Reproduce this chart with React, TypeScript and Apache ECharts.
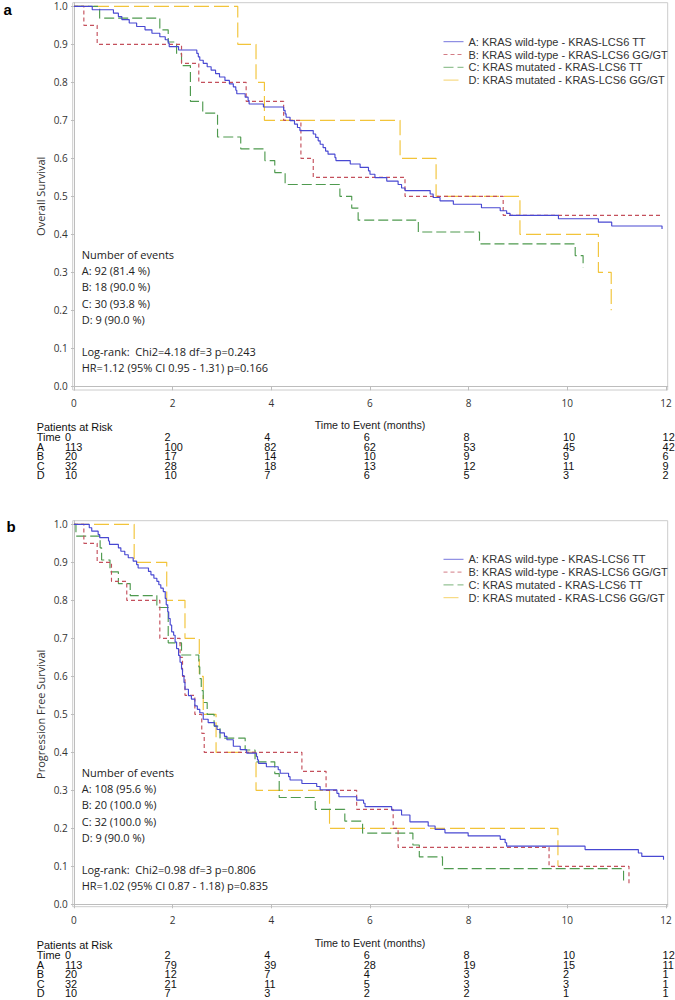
import React, { useEffect, useRef } from 'react';
import * as echarts from 'echarts';

const seriesNames = [
  'A: KRAS wild-type - KRAS-LCS6 TT',
  'B: KRAS wild-type - KRAS-LCS6 GG/GT',
  'C: KRAS mutated - KRAS-LCS6 TT',
  'D: KRAS mutated - KRAS-LCS6 GG/GT',
];
const groupLetters = ['A', 'B', 'C', 'D'];

const xTicks = [0, 2, 4, 6, 8, 10, 12];
const yTicks = [0, 0.1, 0.2, 0.3, 0.4, 0.5, 0.6, 0.7, 0.8, 0.9, 1.0];

// Overall survival (panel a) — [months, survival]
const osA = [[0,1],[0.37,0.991],[0.80,0.982],[0.90,0.973],[0.97,0.965],[1.12,0.956],[1.27,0.947],[1.44,0.938],[1.58,0.929],[1.74,0.920],[1.85,0.912],[1.91,0.903],[1.93,0.894],[2.12,0.885],[2.49,0.876],[2.52,0.867],[2.55,0.858],[2.62,0.850],[2.70,0.841],[2.78,0.832],[2.87,0.823],[2.95,0.814],[3.06,0.805],[3.15,0.796],[3.23,0.788],[3.28,0.779],[3.30,0.770],[3.47,0.761],[3.53,0.752],[3.55,0.743],[3.84,0.735],[4.25,0.726],[4.28,0.717],[4.30,0.708],[4.38,0.699],[4.47,0.690],[4.53,0.681],[4.58,0.673],[4.85,0.664],[4.90,0.655],[4.95,0.646],[4.99,0.637],[5.05,0.628],[5.10,0.619],[5.15,0.611],[5.29,0.602],[5.31,0.594],[5.60,0.585],[5.80,0.576],[5.97,0.567],[6.00,0.558],[6.10,0.549],[6.34,0.540],[6.57,0.531],[6.64,0.522],[6.71,0.515],[7.22,0.506],[7.28,0.497],[7.42,0.488],[7.69,0.479],[8.26,0.470],[8.64,0.462],[8.77,0.455],[8.84,0.450],[9.82,0.441],[10.63,0.432],[10.90,0.422],[11.92,0.414]];
const osB = [[0,1],[0.20,0.95],[0.47,0.90],[2.18,0.85],[2.53,0.80],[3.49,0.75],[4.25,0.70],[4.60,0.60],[4.85,0.55],[6.71,0.50],[8.70,0.45],[11.88,0.45]];
const osC = [[0,1],[0.52,0.969],[1.74,0.938],[1.91,0.906],[2.08,0.875],[2.18,0.844],[2.36,0.75],[2.61,0.719],[2.91,0.656],[3.38,0.625],[3.87,0.594],[4.07,0.5625],[4.28,0.531],[5.39,0.50],[5.63,0.469],[5.76,0.4375],[6.98,0.406],[8.22,0.375],[10.16,0.344],[10.32,0.3125]];
const osD = [[0,1],[3.32,0.9],[3.69,0.8],[3.86,0.7],[6.61,0.6],[7.34,0.5],[9.04,0.4],[10.63,0.3],[10.89,0.2]];

// Progression free survival (panel b)
const pfsA = [[0,1],[0.31,0.991],[0.36,0.982],[0.49,0.973],[0.52,0.965],[0.70,0.956],[0.72,0.947],[0.90,0.938],[0.95,0.929],[1.03,0.920],[1.10,0.912],[1.20,0.903],[1.27,0.894],[1.30,0.885],[1.51,0.876],[1.56,0.867],[1.62,0.858],[1.68,0.850],[1.72,0.841],[1.76,0.832],[1.81,0.823],[1.85,0.805],[1.87,0.788],[1.90,0.770],[1.92,0.752],[1.95,0.735],[1.98,0.717],[2.02,0.708],[2.05,0.690],[2.08,0.673],[2.12,0.655],[2.15,0.637],[2.18,0.619],[2.20,0.602],[2.23,0.584],[2.25,0.566],[2.32,0.549],[2.38,0.540],[2.45,0.522],[2.50,0.513],[2.55,0.504],[2.62,0.487],[2.72,0.478],[2.85,0.469],[2.90,0.460],[2.96,0.451],[3.05,0.442],[3.10,0.433],[3.23,0.416],[3.37,0.407],[3.50,0.398],[3.70,0.389],[3.72,0.380],[3.74,0.371],[3.90,0.362],[4.14,0.354],[4.18,0.345],[4.35,0.336],[4.38,0.327],[4.62,0.318],[4.92,0.310],[4.99,0.301],[5.33,0.292],[5.37,0.283],[5.73,0.274],[5.87,0.266],[5.90,0.257],[6.44,0.248],[6.64,0.235],[6.81,0.217],[7.18,0.206],[7.32,0.197],[7.52,0.188],[7.99,0.180],[8.64,0.171],[8.74,0.162],[8.77,0.153],[10.36,0.144],[11.44,0.135],[11.51,0.126],[11.95,0.117]];
const pfsB = [[0,1],[0.20,0.95],[0.47,0.90],[0.76,0.85],[1.07,0.80],[1.74,0.70],[2.15,0.65],[2.20,0.60],[2.25,0.55],[2.45,0.50],[2.59,0.45],[2.64,0.40],[4.62,0.35],[5.11,0.30],[5.73,0.25],[6.47,0.20],[6.57,0.15],[9.63,0.10],[11.25,0.05]];
const pfsC = [[0,1],[0.04,0.969],[0.53,0.938],[0.56,0.906],[0.73,0.875],[0.90,0.844],[1.14,0.8125],[1.68,0.781],[1.91,0.688],[2.18,0.656],[2.53,0.625],[2.55,0.594],[2.58,0.5625],[2.62,0.531],[2.70,0.50],[2.84,0.469],[2.96,0.4375],[3.47,0.406],[3.67,0.375],[4.07,0.344],[4.16,0.281],[4.89,0.25],[5.49,0.219],[5.85,0.1875],[6.87,0.156],[7.00,0.125],[7.47,0.094],[11.14,0.0625]];
const pfsD = [[0,1],[1.22,0.9],[1.88,0.8],[2.25,0.7],[2.54,0.6],[2.62,0.5],[2.88,0.4],[3.69,0.3],[5.18,0.2],[9.81,0.1]];

// Patients at risk
const riskTimes = [0, 2, 4, 6, 8, 10, 12];
const osRiskA = [113, 100, 82, 62, 53, 45, 42];
const osRiskB = [20, 17, 14, 10, 9, 9, 6];
const osRiskC = [32, 28, 18, 13, 12, 11, 9];
const osRiskD = [10, 10, 7, 6, 5, 3, 2];
const pfsRiskA = [113, 79, 39, 28, 19, 15, 11];
const pfsRiskB = [20, 12, 7, 4, 3, 2, 1];
const pfsRiskC = [32, 21, 11, 5, 3, 3, 1];
const pfsRiskD = [10, 7, 3, 2, 2, 1, 1];

const osEvents = ['A: 92 (81.4 %)', 'B: 18 (90.0 %)', 'C: 30 (93.8 %)', 'D: 9 (90.0 %)'];
const osStats = ['Log-rank:  Chi2=4.18 df=3 p=0.243', 'HR=1.12 (95% CI 0.95 - 1.31) p=0.166'];
const pfsEvents = ['A: 108 (95.6 %)', 'B: 20 (100.0 %)', 'C: 32 (100.0 %)', 'D: 9 (90.0 %)'];
const pfsStats = ['Log-rank:  Chi2=0.98 df=3 p=0.806', 'HR=1.02 (95% CI 0.87 - 1.18) p=0.835'];

const colors = ['#4848d2', '#c4505c', '#4f9a4f', '#f2c43a'];
const dashes: any[] = ['solid', [4, 3], [10, 4], [15, 5]];

const panels = [
  { letter: 'a', yName: 'Overall Survival', top: 2.7, height: 387.3, ymin: -0.0097, dy: 0,
    curves: [osA, osB, osC, osD], risk: [osRiskA, osRiskB, osRiskC, osRiskD], events: osEvents, stats: osStats },
  { letter: 'b', yName: 'Progression Free Survival', top: 520.7, height: 386, ymin: -0.0063, dy: 518,
    curves: [pfsA, pfsB, pfsC, pfsD], risk: [pfsRiskA, pfsRiskB, pfsRiskC, pfsRiskD], events: pfsEvents, stats: pfsStats },
];

const TICK_FONT = '"Open Sans", sans-serif';
const ARIAL = '"Liberation Sans", Arial, sans-serif';

export default function App() {
  const ref = useRef<HTMLDivElement>(null);
  useEffect(() => {
    if (!ref.current) return;
    const chart = echarts.init(ref.current, null, { renderer: 'svg' });
    const grids: any[] = [];
    const xAxes: any[] = [];
    const yAxes: any[] = [];
    const series: any[] = [];
    const legends: any[] = [];
    const graphics: any[] = [];

    panels.forEach((p, pi) => {
      grids.push({ left: 72.7, top: p.top, width: 595, height: p.height, show: true, borderColor: '#cccccc', borderWidth: 1, containLabel: false });
      xAxes.push({
        type: 'value', gridIndex: pi, min: -0.026, max: 12.035,
        axisLine: { show: true, lineStyle: { color: '#bdbdbd' } },
        axisTick: { show: true, length: 4, customValues: xTicks, lineStyle: { color: '#bdbdbd' } },
        axisLabel: { customValues: xTicks, margin: 8, fontSize: 10, fontFamily: TICK_FONT, color: '#333' },
        splitLine: { show: false },
      });
      yAxes.push({
        type: 'value', gridIndex: pi, min: p.ymin, max: 1.0095,
        axisLine: { show: true, lineStyle: { color: '#bdbdbd' } },
        axisTick: { show: true, length: 3, customValues: yTicks, lineStyle: { color: '#bdbdbd' } },
        axisLabel: { customValues: yTicks, margin: 5, fontSize: 10, fontFamily: TICK_FONT, color: '#333', formatter: (v: number) => v.toFixed(1) },
        splitLine: { show: false },
      });
      p.curves.forEach((c, ci) => {
        series.push({
          type: 'line', name: seriesNames[ci], xAxisIndex: pi, yAxisIndex: pi, data: c,
          step: 'end', symbol: 'none', showSymbol: false, silent: true, z: 10 - ci,
          lineStyle: { color: colors[ci], width: 1.15, type: dashes[ci] },
          itemStyle: { color: colors[ci] },
        });
      });
      legends.push({
        orient: 'vertical', left: 443, top: p.top + 33.5 + (pi === 0 ? 0 : -0.4), itemWidth: 20, itemHeight: 11, itemGap: 1.8,
        padding: 0, selectedMode: false,
        itemStyle: { opacity: 0, borderWidth: 0 },
        lineStyle: { width: 1, opacity: 0.75 },
        textStyle: { fontFamily: ARIAL, fontSize: 11, color: '#333', lineHeight: 11 },
        data: seriesNames,
      });
      // panel letter
      graphics.push({ type: 'text', x: pi === 0 ? 3.5 : 6.5, y: pi === 0 ? 9.5 : 526.5, style: { text: p.letter, font: 'bold 15px "Liberation Sans", Arial, sans-serif', fill: '#000', verticalAlign: 'middle' } });
      // y axis title
      graphics.push({ type: 'text', x: 40.5, y: p.top + 3.6 + 190, rotation: Math.PI / 2, style: { text: p.yName, font: '11px "Open Sans", sans-serif', fill: '#333', align: 'center', verticalAlign: 'middle' } });
      // x axis title
      graphics.push({ type: 'text', x: 370, y: 425 + p.dy, style: { text: 'Time to Event (months)', font: '10.7px "Liberation Sans", Arial, sans-serif', fill: '#222', align: 'center', verticalAlign: 'middle' } });
      // annotations
      const annY = 254.3 + p.dy;
      graphics.push({ type: 'text', x: 81.7, y: annY, style: { text: 'Number of events', font: '11px "Open Sans", sans-serif', fill: '#222', verticalAlign: 'middle' } });
      p.events.forEach((t, i) => {
        graphics.push({ type: 'text', x: 81.7, y: annY + 16.25 * (i + 1), style: { text: t, font: '11px "Open Sans", sans-serif', fill: '#222', verticalAlign: 'middle' } });
      });
      p.stats.forEach((t, i) => {
        graphics.push({ type: 'text', x: 81.7, y: annY + 96.7 + 16.3 * i, style: { text: t, font: '11px "Open Sans", sans-serif', fill: '#222', verticalAlign: 'middle', whiteSpace: 'pre' } });
      });
      // patients at risk table
      const tFont = '11.5px "Liberation Sans", Arial, sans-serif';
      const colX = (t: number) => 65 + (t / 2) * 99.6;
      graphics.push({ type: 'text', x: 36.7, y: 427.3 + p.dy, scaleX: 0.95, style: { text: 'Patients at Risk', font: tFont, fill: '#111', verticalAlign: 'middle' } });
      graphics.push({ type: 'text', x: 36.7, y: 437.3 + p.dy, scaleX: 0.95, style: { text: 'Time', font: tFont, fill: '#111', verticalAlign: 'middle' } });
      riskTimes.forEach((t) => {
        graphics.push({ type: 'text', x: colX(t), y: 437.3 + p.dy, scaleX: 0.95, style: { text: String(t), font: tFont, fill: '#111', verticalAlign: 'middle' } });
      });
      const rowY = [446.7, 456.1, 465.6, 475];
      p.risk.forEach((row, ri) => {
        graphics.push({ type: 'text', x: 36.7, y: rowY[ri] + p.dy, scaleX: 0.95, style: { text: groupLetters[ri], font: tFont, fill: '#111', verticalAlign: 'middle' } });
        row.forEach((v, i) => {
          graphics.push({ type: 'text', x: colX(riskTimes[i]), y: rowY[ri] + p.dy, scaleX: 0.95, style: { text: String(v), font: tFont, fill: '#111', verticalAlign: 'middle' } });
        });
      });
    });

    chart.setOption({
      animation: false,
      backgroundColor: '#ffffff',
      grid: grids,
      xAxis: xAxes,
      yAxis: yAxes,
      legend: legends,
      series,
      graphic: { elements: graphics },
    });
    return () => chart.dispose();
  }, []);
  return <div ref={ref} style={{ position: 'absolute', left: 0, top: 0, width: 675, height: 1000 }} />;
}
